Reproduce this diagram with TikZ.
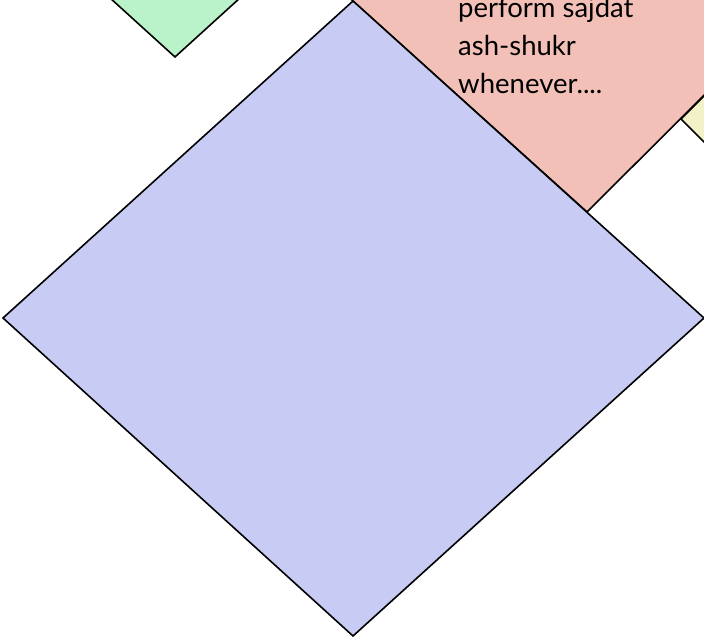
\documentclass[tikz,border=0pt]{standalone}
\usepackage{fontspec}
\usepackage{xcolor}
\usepackage{tikz}
\newfontfamily\notefont{Lato}
\definecolor{cardBlue}{HTML}{C8CBF3}
\definecolor{cardRose}{HTML}{F2C0B7}
\definecolor{cardMint}{HTML}{BAF3C9}
\definecolor{cardLemon}{HTML}{F3F1C8}

\begin{document}
\begin{tikzpicture}[x=1pt,y=-1pt,
    card/.style={draw=black,line width=1.6pt,line join=miter},
    note/.style={font=\notefont\fontsize{27.5}{38}\selectfont,anchor=base west,align=left,inner sep=0pt}]
  \useasboundingbox (0,0) rectangle (704,637);
  % mint card, only its lower tip shows
  \filldraw[card,fill=cardMint] (175,57) -- (-175,-261) -- (175,-579) -- (525,-261) -- cycle;
  % rose card behind the big one
  \filldraw[card,fill=cardRose] (587,212) -- (119,-210) -- (587,-700) -- (1000,-200) -- cycle;
  \node[note] (rosetext) at (458,93) {perform sajdat\\ash-shukr\\whenever....};
  % lemon card on the right edge
  \filldraw[card,fill=cardLemon] (681,119) -- (781,19) -- (881,119) -- (781,219) -- cycle;
  % big blue card
  \filldraw[card,fill=cardBlue] (3,318) -- (353,1) -- (704,318) -- (353,636) -- cycle;
\end{tikzpicture}
\end{document}
